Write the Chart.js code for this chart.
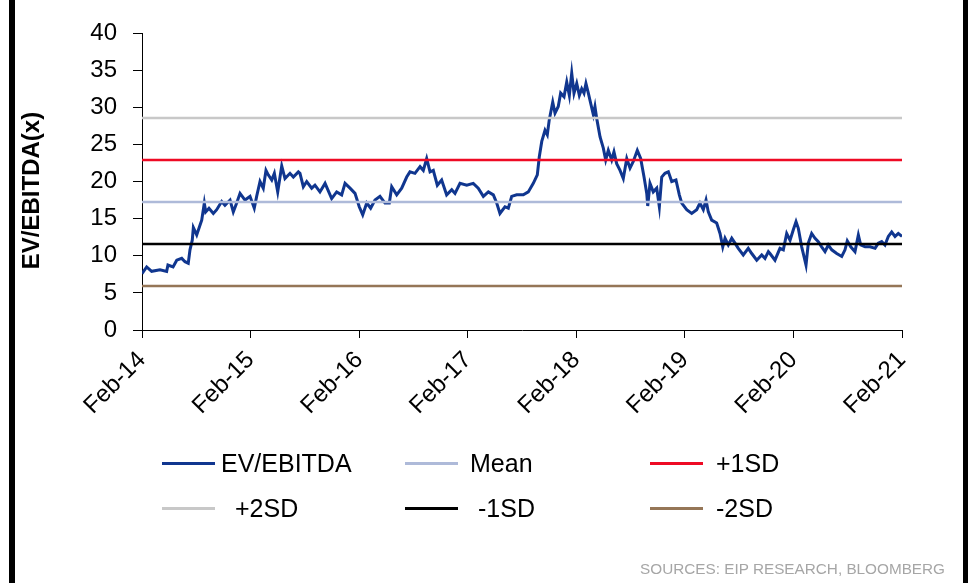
<!DOCTYPE html>
<html>
<head>
<meta charset="utf-8">
<script src="https://cdn.jsdelivr.net/npm/chart.js@4.4.1/dist/chart.umd.min.js"></script>
<style>
  html, body { margin: 0; padding: 0; background: #fff; }
  #page { position: relative; width: 975px; height: 583px; overflow: hidden; background: #fff;
          font-family: 'Liberation Sans', Arial, sans-serif; }
  #wrap { position: absolute; left: 0; top: 0; width: 975px; height: 583px; }
  .bar { position: absolute; top: 0; height: 583px; background: #000; }
  .leg { position: absolute; height: 30px; line-height: 30px; font-size: 25px; color: #000; white-space: nowrap; }
  .leg .ln { position: absolute; top: 14px; height: 3px; }
  .leg .tx { position: absolute; top: 0; }
  #src { position: absolute; right: 30px; top: 560px; font-size: 15.3px; color: #a6a6a6; line-height: 18px; }
</style>
</head>
<body>
<div id="page">
  <div class="bar" style="left:9px;width:6px"></div>
  <div class="bar" style="left:963px;width:5px"></div>
  <div id="wrap"><canvas id="c"></canvas></div>
  <div id="legend"></div>
  <div id="src">SOURCES: EIP RESEARCH, BLOOMBERG</div>
</div>
<script>
// ---- DATA ----
const tickLabels = ['Feb-14','Feb-15','Feb-16','Feb-17','Feb-18','Feb-19','Feb-20','Feb-21'];
const yAxisTitle = 'EV/EBITDA(x)';

// time in years since Feb-2014
const yearsSinceFeb14 = [
  0.000,0.043,0.089,0.166,0.227,0.239,0.286,0.320,0.366,0.396,0.426,0.442,0.463,0.473,0.504,0.534,0.550,0.574,0.587,0.617,
  0.657,0.688,0.734,0.764,0.811,0.841,0.872,0.903,0.949,0.995,1.034,1.056,1.087,1.117,1.142,1.163,1.195,1.219,1.250,1.287,
  1.317,1.363,1.394,1.440,1.455,1.486,1.517,1.563,1.593,1.639,1.686,1.747,1.793,1.839,1.870,1.916,1.962,2.001,2.033,2.070,
  2.106,2.146,2.192,2.238,2.278,2.300,2.346,2.392,2.438,2.468,2.514,2.561,2.591,2.622,2.653,2.683,2.720,2.760,2.806,2.853,
  2.883,2.929,2.991,3.051,3.097,3.144,3.190,3.236,3.267,3.297,3.343,3.374,3.405,3.451,3.512,3.558,3.604,3.641,3.659,3.682,
  3.712,3.733,3.751,3.783,3.804,3.834,3.856,3.887,3.912,3.936,3.958,3.979,4.004,4.028,4.050,4.071,4.089,4.111,4.133,4.157,
  4.172,4.188,4.219,4.249,4.271,4.295,4.326,4.347,4.372,4.403,4.433,4.465,4.495,4.525,4.562,4.593,4.624,4.649,4.658,4.679,
  4.709,4.741,4.765,4.787,4.817,4.848,4.879,4.918,4.949,4.971,5.017,5.063,5.109,5.139,5.170,5.195,5.216,5.247,5.293,5.324,
  5.349,5.370,5.400,5.432,5.462,5.492,5.538,5.584,5.616,5.662,5.708,5.738,5.769,5.784,5.830,5.876,5.907,5.938,5.969,5.999,
  6.024,6.045,6.076,6.091,6.116,6.137,6.168,6.199,6.229,6.260,6.291,6.321,6.353,6.399,6.445,6.475,6.496,6.528,6.567,6.598,
  6.620,6.660,6.706,6.752,6.782,6.813,6.843,6.874,6.905,6.936,6.966,7.000
];

const evEbitda = [
  7.6,8.5,7.9,8.1,7.9,8.75,8.5,9.4,9.65,9.2,9.0,10.8,12.1,13.8,12.8,14.1,14.8,17.1,15.9,16.4,
  15.7,16.2,17.3,16.8,17.5,15.9,17.1,18.4,17.5,18.0,16.4,18.0,20.0,19.1,21.5,20.9,20.2,21.1,18.6,22.1,
  20.4,21.1,20.6,21.3,21.1,19.3,20.0,19.1,19.5,18.6,19.75,17.7,18.6,18.2,19.75,19.1,18.4,16.6,15.5,17.1,
  16.4,17.5,18.0,17.1,17.1,19.3,18.2,19.1,20.6,21.3,21.1,22.0,21.5,23.1,21.3,21.5,19.5,20.2,18.2,18.9,
  18.4,19.75,19.5,19.75,19.1,18.0,18.6,18.2,17.1,15.7,16.6,16.4,18.0,18.2,18.2,18.6,19.75,20.9,23.3,25.4,
  26.9,26.3,28.3,30.7,29.2,30.1,31.9,31.4,33.4,31.6,34.6,31.9,33.2,31.6,32.5,31.9,33.2,31.9,30.5,29.0,
  30.1,28.5,26.0,24.5,22.9,24.2,22.9,24.0,22.4,21.5,20.4,23.1,21.8,22.7,24.2,23.1,20.6,18.4,16.7,19.75,
  18.6,19.1,16.6,20.6,21.1,21.3,20.0,20.2,18.2,17.1,16.2,15.7,16.2,17.1,16.2,17.5,15.9,14.8,14.4,13.0,
  11.2,12.35,11.45,12.35,11.7,11.0,10.1,11.0,10.3,9.4,10.1,9.65,10.55,10.3,9.4,11.0,10.8,13.0,12.1,13.5,
  14.6,13.7,11.2,10.3,8.75,11.7,13.0,12.35,11.9,11.2,10.55,11.45,10.8,10.3,9.9,10.8,12.0,11.2,10.55,12.8,
  11.45,11.2,11.2,11.0,11.7,11.9,11.45,12.6,13.2,12.6,13.0,12.6
];

const bandLabels = ['Mean', '+1SD', '+2SD', '-1SD', '-2SD'];
const bandValues = [17.24, 22.90, 28.56, 11.58, 5.92];

// ---- STYLES ----
const seriesColor = '#10368f';
const bandColors = ['#aebad9', '#ee0a24', '#c8c8c8', '#000000', '#957657'];
const FONT = "'Liberation Sans', Arial, sans-serif";

const xMin = 0, xMax = tickLabels.length - 1;

const datasets = [{
  label: 'EV/EBITDA',
  data: yearsSinceFeb14.map((t, i) => ({ x: t, y: evEbitda[i] })),
  borderColor: seriesColor,
  borderWidth: 3,
  pointRadius: 0,
  tension: 0,
  order: 10
}];
bandLabels.forEach((lab, i) => {
  datasets.push({
    label: lab,
    data: [{ x: xMin, y: bandValues[i] }, { x: xMax, y: bandValues[i] }],
    borderColor: bandColors[i],
    borderWidth: 2.5,
    pointRadius: 0,
    order: 1
  });
});

Chart.defaults.font.family = FONT;
Chart.defaults.color = '#000';

// y-axis title drawn at its place left of the axis
const yTitlePlugin = {
  id: 'yTitle',
  afterDraw(chart) {
    const ctx = chart.ctx;
    const area = chart.chartArea;
    ctx.save();
    ctx.translate(32, (area.top + area.bottom) / 2 + 9);
    ctx.rotate(-Math.PI / 2);
    ctx.font = 'bold 24px ' + FONT;
    ctx.fillStyle = '#000';
    ctx.textAlign = 'center';
    ctx.textBaseline = 'middle';
    ctx.fillText(yAxisTitle, 0, 0);
    ctx.restore();
  }
};

new Chart(document.getElementById('c'), {
  type: 'line',
  data: { datasets },
  plugins: [yTitlePlugin],
  options: {
    responsive: true,
    maintainAspectRatio: false,
    animation: false,
    layout: { padding: { left: 0, top: 33, right: 73, bottom: 0 } },
    plugins: { legend: { display: false }, tooltip: { enabled: false } },
    scales: {
      x: {
        type: 'linear',
        min: xMin, max: xMax,
        afterFit: s => { s.height = 253; },
        ticks: {
          stepSize: 1, autoSkip: false, maxRotation: 45, minRotation: 45,
          padding: 8,
          font: { size: 24 }, color: '#000',
          callback: v => tickLabels[v]
        },
        grid: { display: true, drawOnChartArea: false, drawTicks: true, tickLength: 8, color: '#000', tickColor: '#000', lineWidth: 1 },
        border: { display: true, color: '#000', width: 1 }
      },
      y: {
        min: 0, max: 40,
        afterFit: s => { s.width = 142; },
        ticks: { stepSize: 5, padding: 16, font: { size: 24 }, color: '#000' },
        grid: { display: true, drawOnChartArea: false, drawTicks: true, tickLength: 9, color: '#000', tickColor: '#000', lineWidth: 1 },
        border: { display: true, color: '#000', width: 1 },
        title: { display: false }
      }
    }
  }
});

// ---- HTML legend (3 columns x 2 rows) ----
const legendLayout = [
  { lx: 162, tx: 221, y: 448 }, { lx: 405, tx: 470, y: 448 }, { lx: 650, tx: 716, y: 448 },
  { lx: 162, tx: 235, y: 493 }, { lx: 405, tx: 478, y: 493 }, { lx: 650, tx: 716, y: 493 }
];
const legendOrder = ['EV/EBITDA', 'Mean', '+1SD', '+2SD', '-1SD', '-2SD'];
const legendEl = document.getElementById('legend');
legendOrder.forEach((lab, i) => {
  const ds = datasets.find(d => d.label === lab);
  const p = legendLayout[i];
  const item = document.createElement('div');
  item.className = 'leg';
  item.style.left = '0px';
  item.style.top = p.y + 'px';
  const ln = document.createElement('div');
  ln.className = 'ln';
  ln.style.left = p.lx + 'px';
  ln.style.width = '53px';
  ln.style.background = ds.borderColor;
  const tx = document.createElement('span');
  tx.className = 'tx';
  tx.style.left = p.tx + 'px';
  tx.textContent = lab;
  item.appendChild(ln);
  item.appendChild(tx);
  legendEl.appendChild(item);
});
</script>
</body>
</html>
